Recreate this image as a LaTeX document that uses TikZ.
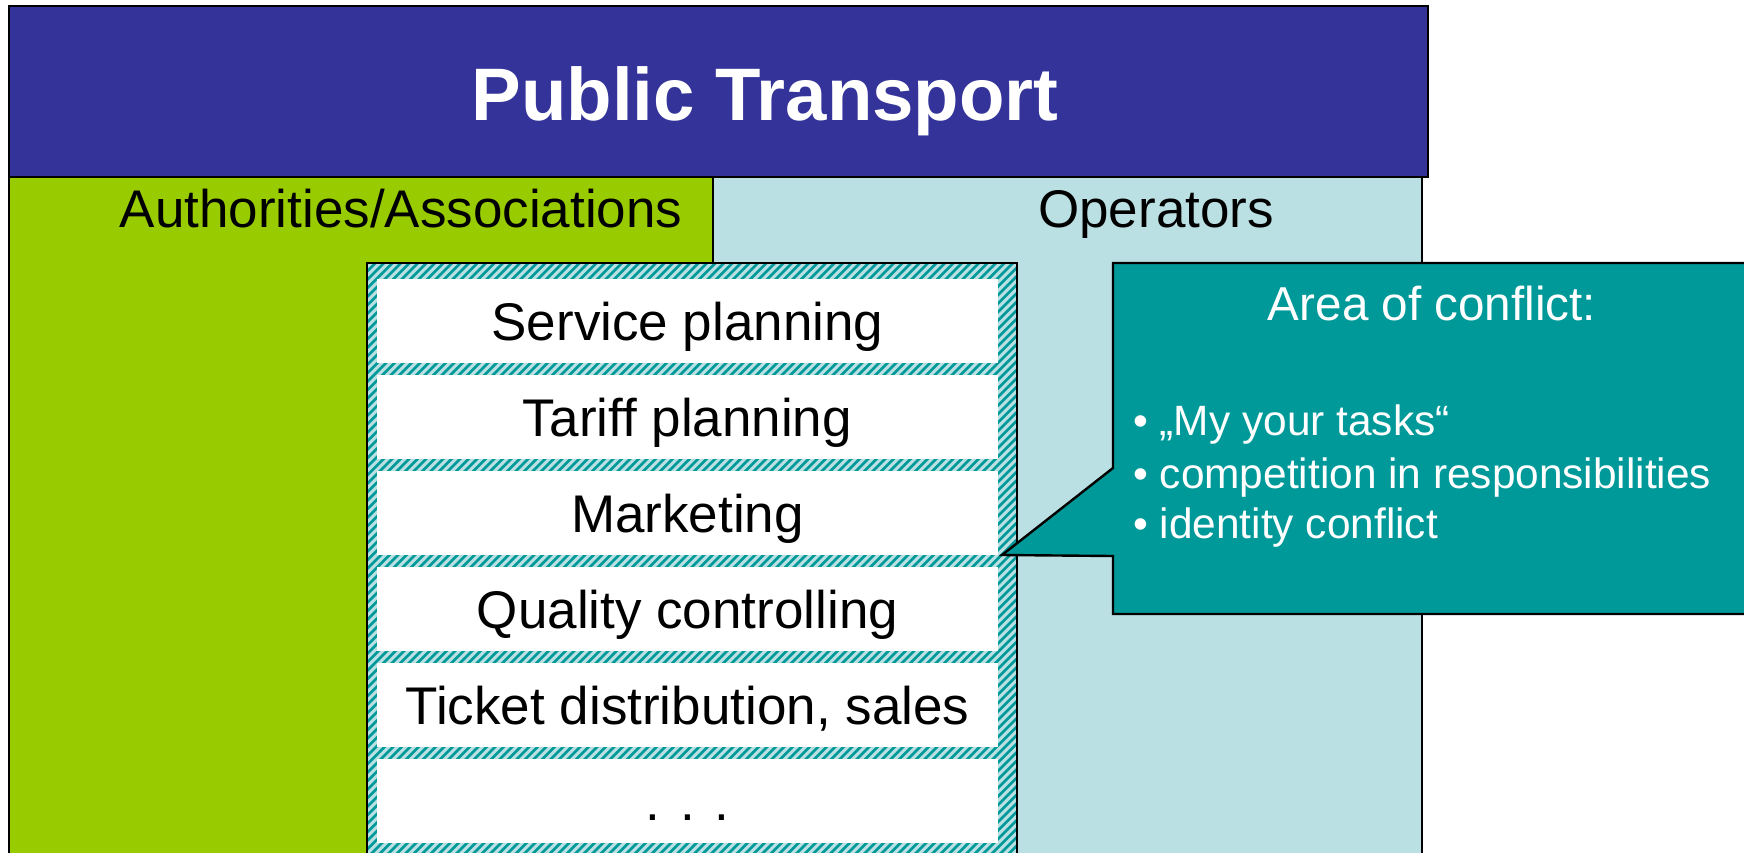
\documentclass[tikz,border=0pt]{standalone}
\usepackage{fontspec}
\setmainfont{Liberation Sans}
\definecolor{titleblue}{HTML}{333399}
\definecolor{authgreen}{HTML}{99CC00}
\definecolor{oplight}{HTML}{BBE0E3}
\definecolor{tealc}{HTML}{009999}
\tikzset{
  frame/.style={draw=black, line width=1.6pt},
  hatchline/.style={draw=tealc, line width=2.7pt},
  taskbox/.style={fill=white, draw=none},
  tasklabel/.style={anchor=base, inner sep=0pt, font=\fontsize{53}{60}\selectfont, text=black},
  headlabel/.style={anchor=base, inner sep=0pt, font=\fontsize{53}{60}\selectfont, text=black},
  bulletlabel/.style={anchor=base west, inner sep=0pt, font=\fontsize{42.4}{50}\selectfont, text=white},
}
\begin{document}
\begin{tikzpicture}[x=1pt, y=-1pt]
\path[use as bounding box] (0,0) rectangle (1744,853);
\clip (0,0) rectangle (1744,853);
\fill[white] (0,0) rectangle (1744,853);

% columns
\draw[frame, fill=authgreen] (9,177) rectangle (713,870);
\draw[frame, fill=oplight] (713,177) rectangle (1422,870);

% title
\draw[frame, fill=titleblue] (9,6) rectangle (1428,177);
\node[anchor=base, inner sep=0pt, text=white, font=\fontsize{74.4}{80}\selectfont\bfseries] (title) at (765,121) {Public Transport};

\node[headlabel] (auth) at (401,227) {Authorities/Associations};
\node[headlabel] (oper) at (1156,227) {Operators};

% hatched container
\begin{scope}
  \clip (367,263) rectangle (1017,870);
  \fill[oplight] (367,263) rectangle (1017,870);
  \foreach \i in {0,...,150} {
    \draw[hatchline] ({-250+8.5*\i},880) -- ({367+8.5*\i},263);
  }
\end{scope}
\draw[black, line width=1.4pt] (367,870) -- (367,263) -- (1017,263) -- (1017,870);

% task boxes
\foreach \n/\t/\txt in {sp/279/Service planning, tp/375/Tariff planning, mk/471/Marketing, qc/567/Quality controlling, td/663/{Ticket distribution, sales}, dots/759/{. . .}} {
  \fill[taskbox] (377,\t) rectangle (998,\t+84);
  \node[tasklabel] (\n) at (687.5,\t+61) {\txt};
}

% callout
\draw[line width=2.4pt, fill=tealc, line join=miter]
  (1113,263) -- (1760,263) -- (1760,614) -- (1113,614) -- (1113,556)
  -- (1002,555) -- (1113,468) -- cycle;
\node[anchor=base, inner sep=0pt, text=white, font=\fontsize{47.6}{54}\selectfont] (area) at (1432,320) {Area of conflict:};
\node[bulletlabel] (b1) at (1133,435) {• „My your tasks“};
\node[bulletlabel] (b2) at (1133,488) {• competition in responsibilities};
\node[bulletlabel] (b3) at (1133,538) {• identity conflict};
\end{tikzpicture}
\end{document}
